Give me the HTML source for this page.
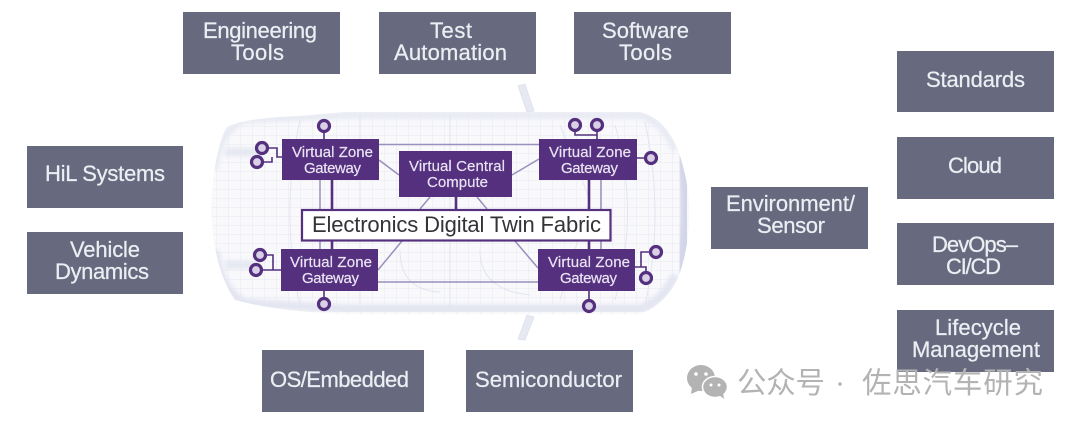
<!DOCTYPE html>
<html><head><meta charset="utf-8"><style>
html,body{margin:0;padding:0;background:#fff}
body{width:1080px;height:427px;overflow:hidden;position:relative}
svg{position:absolute;left:0;top:0;filter:blur(.35px)}
.g{font-family:"Liberation Sans",sans-serif;font-size:22px;fill:#eceef3;stroke:#eceef3;stroke-width:.25px}
.p{font-family:"Liberation Sans",sans-serif;font-size:15px;fill:#e9e3f2;stroke:#e9e3f2;stroke-width:.2px}
.box{fill:#676a7f}
.pb{fill:#54307f}
.c{fill:#d9cfe6;stroke:#54307f;stroke-width:3.2}
.l{stroke:#54307f;stroke-width:1.6;fill:none}
.t{stroke:#9a8fbd;stroke-width:1.500;fill:none}
.w{stroke:#e2e4f0;stroke-width:1;fill:none}
.wm{font-family:"Liberation Sans","Noto Sans CJK SC",sans-serif;font-size:29.500px;fill:#b3b3b3}
</style></head><body>
<svg width="1080" height="427" viewBox="0 0 1080 427" xmlns="http://www.w3.org/2000/svg">
<defs>
<pattern id="grid" width="12" height="9" patternUnits="userSpaceOnUse"><path d="M12 0H0V9" fill="none" stroke="#e6e8f2" stroke-width="1"/></pattern>
<clipPath id="car"><path d="M226 128Q240 118 300 116L345 112L640 112Q665 118 678 150Q690 185 689 212Q690 245 678 278Q665 305 640 314L345 314Q280 312 235 300Q214 270 211 212Q213 155 226 128Z"/></clipPath>
<filter id="b" x="-5%" y="-5%" width="110%" height="110%"><feGaussianBlur stdDeviation="2"/></filter>
</defs>
<!-- car -->
<path d="M226 128Q240 118 300 116L345 112L640 112Q665 118 678 150Q690 185 689 212Q690 245 678 278Q665 305 640 314L345 314Q280 312 235 300Q214 270 211 212Q213 155 226 128Z" fill="#f9f9fc"/>
<g clip-path="url(#car)">
<rect x="205" y="105" width="490" height="215" fill="url(#grid)"/>
<path d="M215 170Q218 130 245 120L345 115L640 115Q665 122 675 150" fill="none" stroke="#e9ebf4" stroke-width="8" filter="url(#b)"/>
<path d="M215 250Q220 290 245 303L345 309L640 309Q665 300 675 275" fill="none" stroke="#e3e5f1" stroke-width="9" filter="url(#b)"/>
<path d="M214 170V260" fill="none" stroke="#e9ebf4" stroke-width="7" filter="url(#b)"/>
<path d="M682 150Q692 212 680 278" fill="none" stroke="#d3d6e8" stroke-width="13" filter="url(#b)"/>
<path d="M262 152H225M260 265H225" stroke="#e6e8f2" stroke-width="9" filter="url(#b)"/>
<path d="M560 125L590 200L560 300M615 125Q640 212 615 300M645 122Q665 212 645 306M300 120Q280 212 300 306M360 115V310M450 115V310M400 250Q400 290 440 292M480 250Q480 290 530 295" class="w"/>
</g>
<path d="M518 86L525 84L534 111L527 112ZM527 315L534 317L525 340L518 339Z" fill="#e6e8f2" stroke="#dee0ec" stroke-width=".8"/>
<!-- thin connectors -->
<path d="M379 144.500H539M379 160L399 175M512 175L539 159M378 282H538M378 270L402 241M515 241L538 268M320 180V209M601 180V209M320 241V249M601 241V249M430 197L420 209M477 197L487 209" class="t"/>
<!-- thick connectors -->
<path d="M332 180V209M456 197V209M589 180V209M332 241V249M589 241V249" stroke="#54307f" stroke-width="2.6" fill="none"/>
<path d="M324 132V139M262 148H277V157H282M257 162H272V157M575 131V135H597M597 131V139M637 158H645M324 291V298M260 255H273V270M256 270H281M589 291V300M635 267H646V272M641 267V252H650" class="l"/>
<!-- white fabric -->
<rect x="302" y="210" width="308.500" height="30.500" fill="#fff" stroke="#54307f" stroke-width="2.200"/>
<text x="312" y="232" textLength="289" font-family="Liberation Sans,sans-serif" font-size="22" fill="#333338">Electronics Digital Twin Fabric</text>
<!-- purple boxes -->
<rect class="pb" x="282" y="139" width="97" height="41"/>
<rect class="pb" x="399" y="151" width="113" height="46"/>
<rect class="pb" x="539" y="139" width="98" height="41"/>
<rect class="pb" x="281" y="249" width="97" height="42"/>
<rect class="pb" x="538" y="249" width="97" height="42"/>
<text class="p" x="292" y="157" textLength="81">Virtual Zone</text><text class="p" x="304" y="173" textLength="57">Gateway</text>
<text class="p" x="409" y="171" textLength="96">Virtual Central</text><text class="p" x="427" y="187" textLength="61">Compute</text>
<text class="p" x="549" y="157" textLength="82">Virtual Zone</text><text class="p" x="561" y="173" textLength="57">Gateway</text>
<text class="p" x="290" y="267" textLength="82">Virtual Zone</text><text class="p" x="302" y="283" textLength="57">Gateway</text>
<text class="p" x="548" y="267" textLength="82">Virtual Zone</text><text class="p" x="560" y="283" textLength="57">Gateway</text>
<!-- circles -->
<circle class="c" cx="324" cy="126" r="5.500"/>
<circle class="c" cx="262" cy="148" r="5.500"/>
<circle class="c" cx="257" cy="162" r="5.500"/>
<circle class="c" cx="575" cy="125" r="5.500"/>
<circle class="c" cx="597" cy="125" r="5.500"/>
<circle class="c" cx="651" cy="158" r="5.500"/>
<circle class="c" cx="260" cy="255" r="5.500"/>
<circle class="c" cx="256" cy="270" r="5.500"/>
<circle class="c" cx="324" cy="304" r="5.500"/>
<circle class="c" cx="656" cy="252" r="5.500"/>
<circle class="c" cx="646" cy="278" r="5.500"/>
<circle class="c" cx="589" cy="306" r="5.500"/>
<!-- gray boxes -->
<rect class="box" x="183" y="12" width="157" height="62"/>
<rect class="box" x="379" y="12" width="157" height="62"/>
<rect class="box" x="574" y="12" width="157" height="62"/>
<rect class="box" x="897" y="51" width="157" height="61"/>
<rect class="box" x="897" y="137" width="157" height="62"/>
<rect class="box" x="897" y="223" width="157" height="62"/>
<rect class="box" x="897" y="310" width="157" height="62"/>
<rect class="box" x="711" y="187" width="157" height="62"/>
<rect class="box" x="27" y="146" width="156" height="62"/>
<rect class="box" x="27" y="232" width="156" height="62"/>
<rect class="box" x="262" y="350" width="162" height="62"/>
<rect class="box" x="466" y="350" width="167" height="62"/>
<text class="g" x="203" y="38" textLength="114">Engineering</text><text class="g" x="231" y="60" textLength="53">Tools</text>
<text class="g" x="430" y="38" textLength="42">Test</text><text class="g" x="394" y="60" textLength="113">Automation</text>
<text class="g" x="602" y="38" textLength="87">Software</text><text class="g" x="619" y="60" textLength="53">Tools</text>
<text class="g" x="926" y="87" textLength="99">Standards</text>
<text class="g" x="948" y="173" textLength="54">Cloud</text>
<text class="g" x="932" y="252" textLength="86">DevOps–</text><text class="g" x="946" y="274" textLength="55">CI/CD</text>
<text class="g" x="935" y="335" textLength="86">Lifecycle</text><text class="g" x="912" y="357" textLength="128">Management</text>
<text class="g" x="726" y="211" textLength="129">Environment/</text><text class="g" x="757" y="233" textLength="68">Sensor</text>
<text class="g" x="45" y="181" textLength="120">HiL Systems</text>
<text class="g" x="70" y="257" textLength="70">Vehicle</text><text class="g" x="55" y="279" textLength="94">Dynamics</text>
<text class="g" x="270" y="387" textLength="139">OS/Embedded</text>
<text class="g" x="475" y="387" textLength="147">Semiconductor</text>
<!-- watermark -->
<g fill="#b3b3b3">
<ellipse cx="701" cy="378" rx="14" ry="13"/>
<path d="M692 387L691 394L700 390Z"/>
<ellipse cx="715" cy="387" rx="12.500" ry="10.500" stroke="#fff" stroke-width="1.500"/>
<path d="M719 395L724 399L723 392Z"/>
</g>
<g fill="#fff"><circle cx="696" cy="374" r="1.800"/><circle cx="706" cy="374" r="1.800"/><circle cx="711" cy="385" r="1.500"/><circle cx="719" cy="385" r="1.500"/></g>
<text class="wm" x="737" y="393" textLength="88">公众号</text>
<circle cx="840" cy="384" r="1.800" fill="#b3b3b3"/>
<text class="wm" x="862" y="393" textLength="181">佐思汽车研究</text>
</svg>
</body></html>
